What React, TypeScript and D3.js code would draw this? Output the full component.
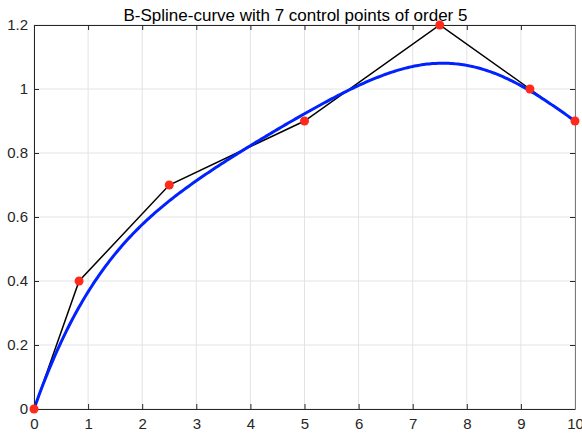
import React, { useEffect, useRef } from "react";
import * as d3 from "d3";

// control polygon
const ctrlX = [0, 0.8333, 2.5, 5, 7.5, 9.1667, 10];
const ctrlY = [0, 0.4, 0.7, 0.9, 1.2, 1.0, 0.9];
// clamped knot vector for order 5, 7 control points
const knots = [0, 0, 0, 0, 0, 1, 2, 3, 3, 3, 3, 3];
const order = 5;

const xTicks = [0, 1, 2, 3, 4, 5, 6, 7, 8, 9, 10];
const yTicks = [0, 0.2, 0.4, 0.6, 0.8, 1, 1.2];

const width = 582;
const height = 434;
const margin = { top: 25, right: 7, bottom: 25, left: 34 };

// de Boor evaluation
function deBoor(t: number, xs: number[], ys: number[]) {
  const p = order - 1;
  let k = p;
  while (k < knots.length - p - 2 && t >= knots[k + 1]) k++;
  const dx: number[] = [];
  const dy: number[] = [];
  for (let j = 0; j <= p; j++) {
    dx.push(xs[j + k - p]);
    dy.push(ys[j + k - p]);
  }
  for (let r = 1; r <= p; r++) {
    for (let j = p; j >= r; j--) {
      const den = knots[j + 1 + k - r] - knots[j + k - p];
      const a = den === 0 ? 0 : (t - knots[j + k - p]) / den;
      dx[j] = (1 - a) * dx[j - 1] + a * dx[j];
      dy[j] = (1 - a) * dy[j - 1] + a * dy[j];
    }
  }
  return [dx[p], dy[p]] as [number, number];
}

export default function App() {
  const svgRef = useRef<SVGSVGElement>(null);

  useEffect(() => {
    const root = d3.select(svgRef.current);
    root.selectAll("*").remove();

    const plotW = width - margin.left - margin.right;
    const plotH = height - margin.top - margin.bottom;
    const axisColor = "#262626";
    const font = "'Liberation Sans', Arial, sans-serif";

    const x = d3.scaleLinear().domain([0, 10]).range([0, plotW]);
    const y = d3.scaleLinear().domain([0, 1.2]).range([plotH, 0]);

    const svg = root
      .append("g")
      .attr("transform", `translate(${margin.left},${margin.top})`);

    svg.append("rect").attr("width", plotW).attr("height", plotH).attr("fill", "#fff");

    // grid
    svg
      .append("g")
      .selectAll("line")
      .data(xTicks)
      .enter()
      .append("line")
      .attr("x1", (d) => x(d))
      .attr("x2", (d) => x(d))
      .attr("y1", 0)
      .attr("y2", plotH)
      .attr("stroke", "#e3e3e3")
      .attr("stroke-width", 1);
    svg
      .append("g")
      .selectAll("line")
      .data(yTicks)
      .enter()
      .append("line")
      .attr("y1", (d) => y(d))
      .attr("y2", (d) => y(d))
      .attr("x1", 0)
      .attr("x2", plotW)
      .attr("stroke", "#e3e3e3")
      .attr("stroke-width", 1);

    // control polygon
    const pts = ctrlX.map((d, i) => [d, ctrlY[i]] as [number, number]);
    const line = d3
      .line<[number, number]>()
      .x((d) => x(d[0]))
      .y((d) => y(d[1]));

    svg
      .append("path")
      .datum(pts)
      .attr("d", line)
      .attr("fill", "none")
      .attr("stroke", "#000")
      .attr("stroke-width", 1.5);

    // spline
    const curve = d3.range(0, 3.0001, 0.01).map((t) => deBoor(Math.min(t, 3), ctrlX, ctrlY));
    svg
      .append("path")
      .datum(curve)
      .attr("d", line)
      .attr("fill", "none")
      .attr("stroke", "#0022ff")
      .attr("stroke-width", 3);

    // axes
    const tickLen = 5;
    const gx = svg.append("g").attr("transform", `translate(0,${plotH})`);
    gx.call(d3.axisBottom(x).tickValues(xTicks).tickSize(-tickLen).tickSizeOuter(0).tickPadding(9));
    const gxt = svg.append("g");
    gxt.call(d3.axisTop(x).tickValues(xTicks).tickSize(-tickLen).tickSizeOuter(0).tickFormat(() => ""));
    const gy = svg.append("g");
    gy.call(d3.axisLeft(y).tickValues(yTicks).tickSize(-tickLen).tickSizeOuter(0).tickPadding(6).tickFormat((d) => String(d)));
    const gyr = svg.append("g").attr("transform", `translate(${plotW},0)`);
    gyr.call(d3.axisRight(y).tickValues(yTicks).tickSize(-tickLen).tickSizeOuter(0).tickFormat(() => ""));

    [gx, gxt, gy, gyr].forEach((g) => {
      g.selectAll("path, line").attr("stroke", axisColor);
      g.selectAll("text")
        .attr("fill", axisColor)
        .style("font-family", font)
        .style("font-size", "15px");
    });
    gyr.select("path").attr("stroke", "#7a7a7a");

    // markers
    svg
      .append("g")
      .selectAll("circle")
      .data(pts)
      .enter()
      .append("circle")
      .attr("cx", (d) => x(d[0]))
      .attr("cy", (d) => y(d[1]))
      .attr("r", 4.5)
      .attr("fill", "#ff2a1a");

    // title
    svg
      .append("text")
      .attr("x", plotW / 2 - 9)
      .attr("y", -4.5)
      .attr("text-anchor", "middle")
      .style("font-family", font)
      .style("font-size", "17px")
      .attr("fill", "#000")
      .text("B-Spline-curve with 7 control points of order 5");
  }, []);

  return (
    <div style={{ position: "absolute", left: 0, top: 0 }}>
      <svg ref={svgRef} width={width} height={height} style={{ display: "block" }} />
    </div>
  );
}
